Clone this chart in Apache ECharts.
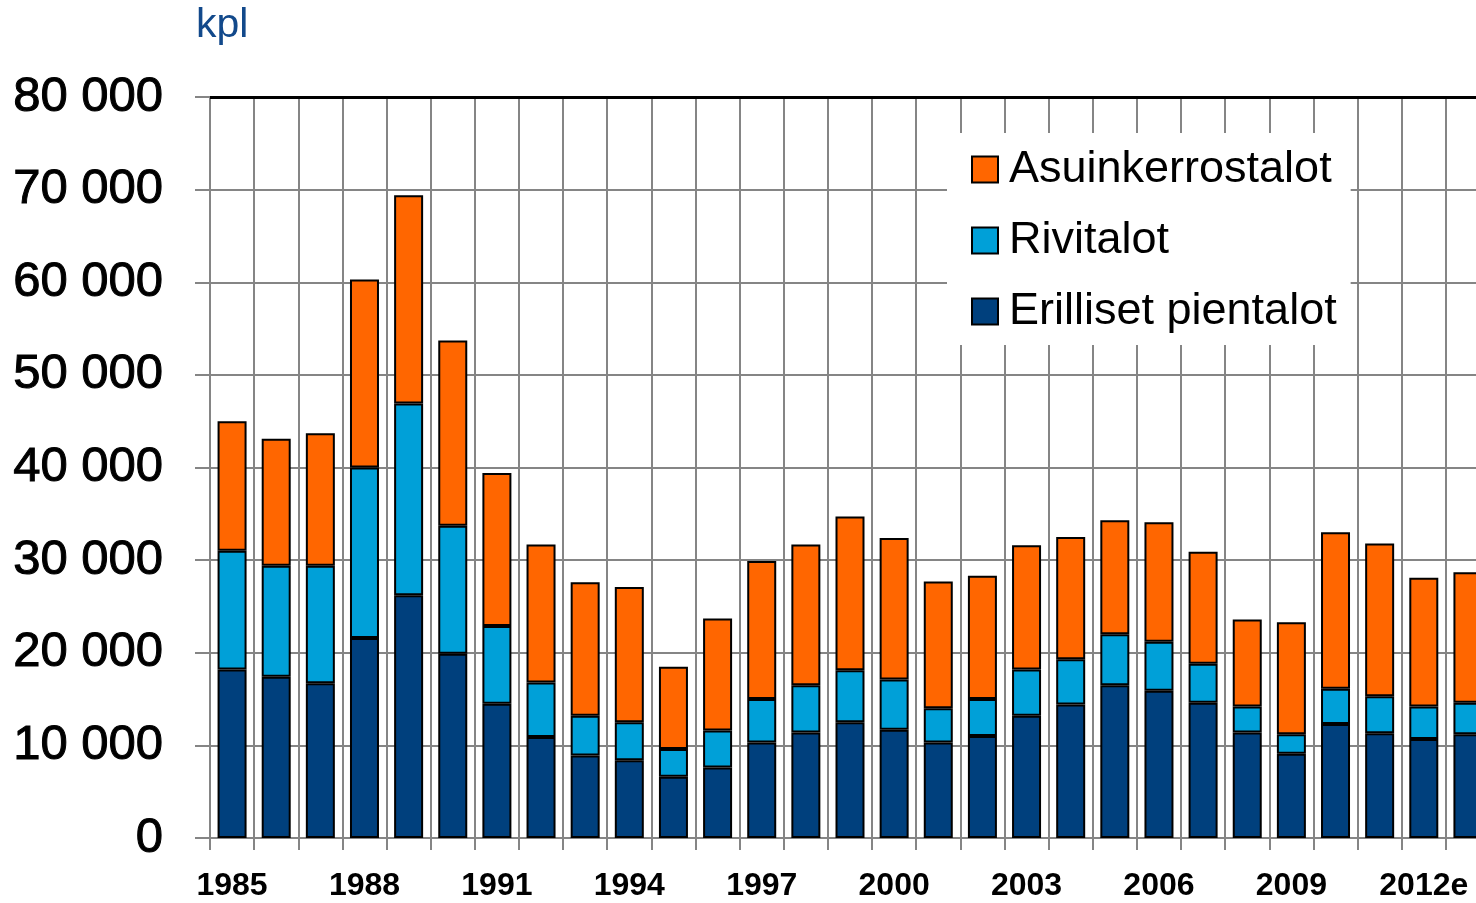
<!DOCTYPE html>
<html>
<head>
<meta charset="utf-8">
<script src="https://cdn.jsdelivr.net/npm/echarts@6/dist/echarts.min.js"></script>
<style>
html,body{margin:0;padding:0;background:#fff;overflow:hidden;}
#chart{width:1476px;height:903px;}
</style>
</head>
<body>
<div id="chart"></div>
<script>
const years = ['1985','1986','1987','1988','1989','1990','1991','1992','1993','1994','1995','1996','1997','1998','1999','2000','2001','2002','2003','2004','2005','2006','2007','2008','2009','2010','2011','2012e','2013e'];
const erillisetPientalot = [18200,17400,16700,21600,26200,19900,14500,10900,8900,8400,6600,7600,10300,11400,12500,11700,10300,11000,13200,14400,16500,15900,14600,11400,9100,12300,11300,10700,11200];
const rivitalot = [12800,12000,12700,18400,20700,13800,8400,5900,4300,4100,3000,4000,4700,5100,5600,5400,3700,4000,5000,4900,5500,5300,4200,2800,2100,3800,4000,3500,3400];
const asuinkerrostalot = [14000,13700,14300,20300,22500,20000,16500,14900,14400,14600,8900,12100,14900,15200,16600,15300,13700,13300,13400,13200,12300,12900,12100,9400,12100,16900,16500,13900,14100];
const seriesNames = ['Erilliset pientalot','Rivitalot','Asuinkerrostalot'];
const legendOrder = ['Asuinkerrostalot','Rivitalot','Erilliset pientalot'];
const unitLabel = 'kpl';
const yMin = 0, yMax = 80000, yStep = 10000;

const gridGray = '#858585';
const font = 'Liberation Sans, Arial, sans-serif';
const fmt = v => v === 0 ? '0' : String(v).replace(/\B(?=(\d{3})+(?!\d))/g, ' ');

const chart = echarts.init(document.getElementById('chart'));
const barStyle = (color) => ({ color: color, borderColor: '#000', borderWidth: 2 });

chart.setOption({
  animation: false,
  backgroundColor: '#fff',
  title: {
    text: unitLabel, left: 196, top: 5, padding: 0,
    textStyle: { fontFamily: font, fontSize: 41, fontWeight: 'normal', color: '#12498b' }
  },
  legend: {
    data: legendOrder,
    orient: 'vertical',
    left: 947, top: 133,
    padding: [14, 14, 11, 24],
    itemGap: 26,
    itemWidth: 26, itemHeight: 26,
    backgroundColor: '#fff',
    icon: 'rect',
    textStyle: { fontFamily: font, fontSize: 45, color: '#000', lineHeight: 44, padding: [0,0,0,6] }
  },
  grid: { left: 210, width: 1280, top: 97, bottom: 65, containLabel: false, outerBoundsMode: 'none' },
  xAxis: {
    type: 'category',
    data: years,
    boundaryGap: true,
    axisLine: { show: true, lineStyle: { color: gridGray, width: 2 } },
    axisTick: { show: true, interval: 0, length: 12, lineStyle: { color: gridGray, width: 2 } },
    axisLabel: { interval: 2, margin: 32, fontFamily: font, fontSize: 32, fontWeight: 'bold', color: '#000' },
    splitLine: { show: true, interval: 0, lineStyle: { color: gridGray, width: 2 } }
  },
  yAxis: {
    type: 'value',
    min: yMin, max: yMax, interval: yStep,
    axisLine: { show: true, lineStyle: { color: gridGray, width: 2 } },
    axisTick: { show: true, length: 15, lineStyle: { color: gridGray, width: 2 } },
    axisLabel: { margin: 47, formatter: fmt, fontFamily: font, fontSize: 49, color: '#000', textBorderColor: '#000', textBorderWidth: 1 },
    splitLine: { show: true, lineStyle: { color: gridGray, width: 2 } }
  },
  series: [
    { name: seriesNames[0], type: 'bar', stack: 'total', barWidth: 29, data: erillisetPientalot, itemStyle: barStyle('#00407d'),
      markLine: { silent: true, symbol: ['none','none'], label: { show: false }, lineStyle: { color: '#000', width: 3, type: 'solid' }, data: [{ yAxis: yMax }] } },
    { name: seriesNames[1], type: 'bar', stack: 'total', barWidth: 29, data: rivitalot, itemStyle: barStyle('#00a0d8') },
    { name: seriesNames[2], type: 'bar', stack: 'total', barWidth: 29, data: asuinkerrostalot, itemStyle: barStyle('#ff6600') }
  ]
});
</script>
</body>
</html>
